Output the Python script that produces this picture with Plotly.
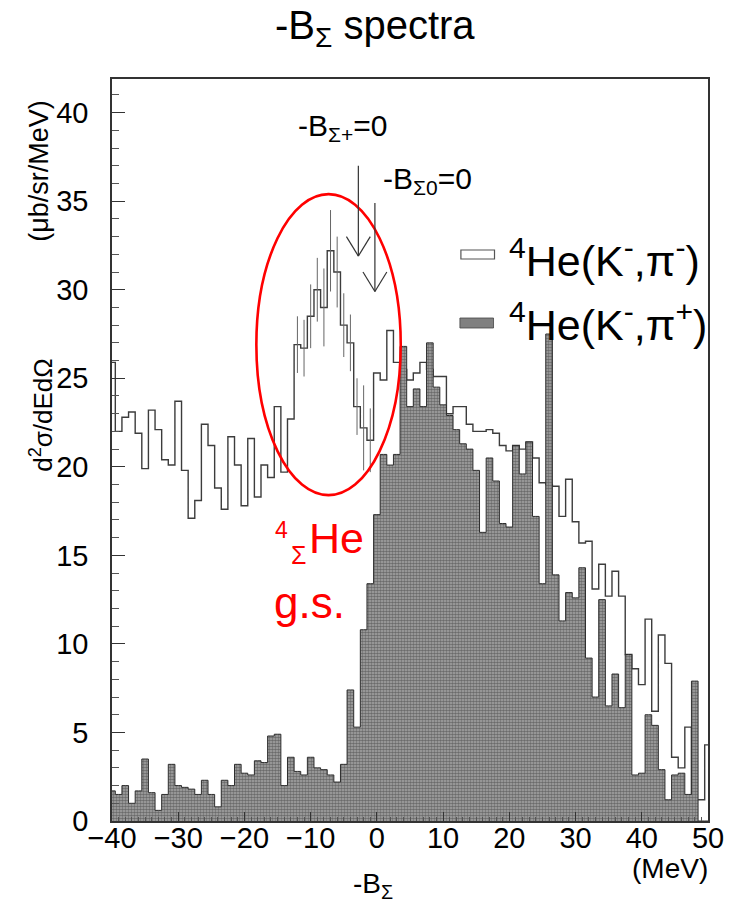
import plotly.graph_objects as go

# ---------------- data ----------------
energy = list(range(-40, 51))  # -B_Sigma bin centres (MeV), 1 MeV bins

# 4He(K-,pi-)  open histogram
pim = [25.9, 22.0, 22.8, 23.1, 21.9, 19.9, 23.2, 22.1, 20.4, 20.1,
       23.7, 19.8, 17.1, 18.1, 22.4, 21.2, 18.8, 17.6, 21.7, 20.1,
       17.8, 21.6, 18.3, 20.1, 19.4, 23.4, 19.7, 22.7, 26.9, 26.7,
       28.5, 30.0, 29.0, 32.2, 31.0, 28.0, 27.0, 23.4, 22.2, 21.5,
       25.3, 24.9, 27.7, 25.9, 25.5, 24.9, 25.3, 25.9, 25.5, 25.1,
       25.1, 23.0, 23.4, 23.4, 22.4, 22.0, 22.0, 22.1, 21.9, 21.2,
       20.9, 21.2, 21.0, 21.4, 20.5, 19.1, 19.0, 18.9, 17.2, 19.3,
       16.9, 15.7, 15.8, 13.1, 14.5, 12.7, 14.1, 12.7, 9.4, 8.6,
       7.7, 11.4, 6.2, 10.5, 8.9, 3.6, 3.0, 5.3, 1.2, 1.2,
       4.3]

# 4He(K-,pi+)  filled histogram
pip = [1.7, 1.5, 2.0, 1.0, 1.7, 3.5, 1.6, 0.6, 1.5, 3.2,
       2.0, 1.9, 1.8, 1.5, 2.3, 1.5, 0.8, 2.3, 2.0, 3.2,
       2.7, 2.6, 3.4, 3.3, 4.8, 4.9, 2.0, 3.6, 2.8, 2.6,
       3.6, 3.0, 2.9, 2.6, 2.2, 3.2, 7.4, 5.3, 10.8, 13.4,
       17.3, 20.7, 20.1, 20.7, 26.8, 23.4, 24.4, 23.4, 27.0, 24.5,
       23.5, 22.9, 22.1, 21.3, 21.0, 19.8, 16.3, 20.5, 19.2, 16.8,
       16.6, 21.2, 19.6, 21.4, 17.2, 13.4, 27.5, 13.9, 11.3, 12.9,
       12.6, 14.3, 9.2, 7.0, 12.5, 6.5, 8.3, 6.4, 9.4, 2.6,
       2.7, 6.0, 5.4, 2.9, 1.2, 2.6, 2.7, 1.5, 7.9, 0.0,
       0.0]

# statistical error bars shown on the (K-,pi-) peak region
err_bins = [-12, -11, -10, -9, -8, -7, -6, -5, -4, -3, -2, -1]
err_vals = [1.6, 1.6, 1.8, 1.8, 2.2, 2.3, 2.0, 1.8, 1.6, 1.6, 2.4, 1.8]

x_ticks = [-40, -30, -20, -10, 0, 10, 20, 30, 40, 50]
y_ticks = [0, 5, 10, 15, 20, 25, 30, 35, 40]

# thresholds marked by arrows
thr_sigma_plus = -2.8
thr_sigma_zero = -0.3

# ---------------- layout helpers ----------------
W, H = 736, 904
L, R, T, B = 112, 715, 79, 821
FONT = "Liberation Sans, Arial, sans-serif"


def px(x):
    return (x - L) / (R - L)


def py(y):
    return (B - y) / (B - T)


fig = go.Figure()

# open histogram (drawn first so the filled one hides it where lower)
fig.add_trace(go.Scatter(
    x=energy, y=pim, mode="lines",
    line=dict(shape="hvh", color="#3c3c3c", width=1.4),
    showlegend=False, hoverinfo="skip"))

# error bars
err_y = [pim[energy.index(e)] for e in err_bins]
fig.add_trace(go.Scatter(
    x=err_bins, y=err_y, mode="markers",
    marker=dict(size=1, color="rgba(0,0,0,0)"),
    error_y=dict(type="data", array=err_vals, visible=True,
                 thickness=1.0, width=0, color="#666666"),
    showlegend=False, hoverinfo="skip"))

# filled histogram
fig.add_trace(go.Scatter(
    x=energy, y=pip, mode="lines",
    line=dict(shape="hvh", color="#2e2e2e", width=1.0),
    fill="tozeroy", fillcolor="#808080",
    fillpattern=dict(shape=".", size=3, solidity=0.6,
                     fgcolor="#2e2e2e", bgcolor="#a8a8a8"),
    showlegend=False, hoverinfo="skip"))

shapes = []
# red ellipse
shapes.append(dict(type="circle", xref="x", yref="y",
                   x0=-18.2, x1=3.6, y0=18.4, y1=35.4,
                   line=dict(color="#ff0000", width=2.6)))


def arrow(x, y_top, y_tip):
    s = []
    s.append(dict(type="line", xref="x", yref="y", x0=x, x1=x, y0=y_top, y1=y_tip,
                  line=dict(color="#333333", width=1.2)))
    s.append(dict(type="line", xref="x", yref="y", x0=x - 1.8, x1=x, y0=y_tip + 1.1, y1=y_tip,
                  line=dict(color="#333333", width=1.2)))
    s.append(dict(type="line", xref="x", yref="y", x0=x + 1.8, x1=x, y0=y_tip + 1.1, y1=y_tip,
                  line=dict(color="#333333", width=1.2)))
    return s


shapes += arrow(thr_sigma_plus, 37.0, 31.9)
shapes += arrow(thr_sigma_zero, 34.9, 29.9)

# legend swatches
shapes.append(dict(type="rect", xref="paper", yref="paper",
                   x0=px(465), x1=px(499), y0=py(259), y1=py(250),
                   fillcolor="white", line=dict(color="#555555", width=1.2)))
shapes.append(dict(type="rect", xref="paper", yref="paper",
                   x0=px(464), x1=px(498), y0=py(328), y1=py(318),
                   fillcolor="#808080", line=dict(color="#444444", width=0.8)))

annotations = []


def ann(text, x, y, size, color="black", xanchor="center", yanchor="middle", angle=0):
    annotations.append(dict(text=text, xref="paper", yref="paper", x=px(x), y=py(y),
                            xanchor=xanchor, yanchor=yanchor, showarrow=False,
                            textangle=angle,
                            font=dict(family=FONT, size=size, color=color)))


ann("-B<sub>Σ</sub> spectra", 378, 28, 40)
ann("-B<sub>Σ+</sub>=0", 345, 127, 30)
ann("-B<sub>Σ0</sub>=0", 431, 181, 30)
ann("<sup>4</sup>He(K<sup>-</sup>,π<sup>-</sup>)", 512, 258, 43, xanchor="left")
ann("<sup>4</sup>He(K<sup>-</sup>,π<sup>+</sup>)", 512, 322, 43, xanchor="left")
ann("(μb/sr/MeV)", 38, 171, 27, angle=-90)
ann("d<sup>2</sup>σ/dEdΩ", 40, 415, 26, angle=-90)
ann("(MeV)", 677, 868, 28)
ann("-B<sub>Σ</sub>", 376, 885, 28)
# red label
ann("4", 283, 530, 23, color="#ff0000")
ann("Σ", 301, 555, 25, color="#ff0000")
ann("He", 339, 538, 43, color="#ff0000")
ann("g.s.", 312, 602, 44, color="#ff0000")

axis_common = dict(showline=True, linecolor="#333333", linewidth=1.5, mirror=True,
                   showgrid=False, zeroline=False, ticks="inside",
                   tickcolor="#333333",
                   tickfont=dict(family=FONT, size=29, color="black"))

fig.update_layout(
    width=W, height=H,
    margin=dict(l=L, r=W - R, t=T, b=H - B),
    paper_bgcolor="white", plot_bgcolor="white",
    showlegend=False,
    xaxis=dict(range=[-40, 50], tickvals=x_ticks, ticklen=9,
               minor=dict(dtick=1, ticklen=4, ticks="inside", tickcolor="#555555"),
               ticklabelstandoff=-10, **axis_common),
    yaxis=dict(range=[0, 41.9], tickvals=y_ticks, ticklen=13,
               minor=dict(dtick=1, ticklen=7, ticks="inside", tickcolor="#555555"),
               ticklabelstandoff=16, **axis_common),
    shapes=shapes,
    annotations=annotations,
)

fig.write_html("out.html")
